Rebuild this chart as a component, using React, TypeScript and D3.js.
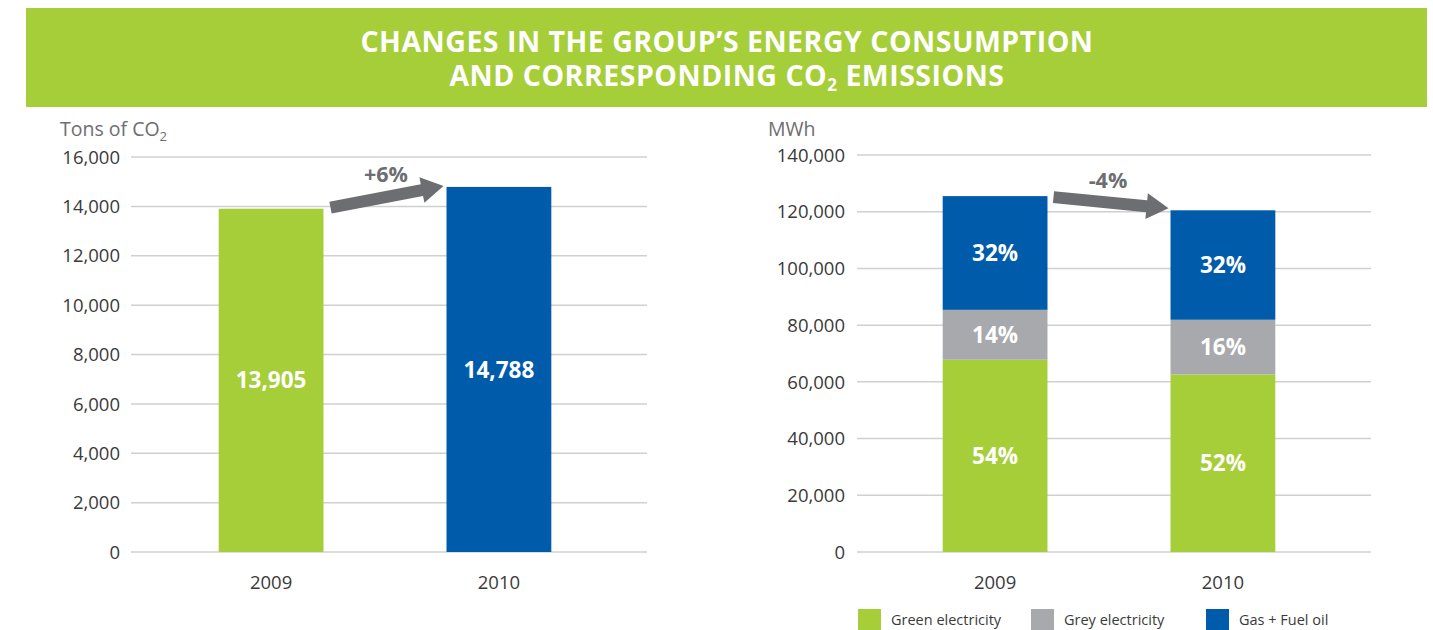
import React from "react";
import * as d3 from "d3";

// data
const years = ["2009", "2010"];
const co2Tons = [13905, 14788];
const co2Ticks = [0, 2000, 4000, 6000, 8000, 10000, 12000, 14000, 16000];
const co2Change = "+6%";

const energySeries = ["Green electricity", "Grey electricity", "Gas + Fuel oil"];
const greenMWh = [67800, 62600];
const greyMWh = [17600, 19300];
const gasMWh = [40100, 38600];
const energyShares = [
  ["54%", "52%"],
  ["14%", "16%"],
  ["32%", "32%"],
];
const energyTicks = [0, 20000, 40000, 60000, 80000, 100000, 120000, 140000];
const energyChange = "-4%";

const GREEN = "#a6ce39";
const GREY = "#a7a9ac";
const BLUE = "#005bab";
const ARROW = "#6d6e71";
const TEXT = "#3a3a3a";
const FONT = "'Open Sans', 'Noto Sans', sans-serif";

const fmt = d3.format(",");

// arrow polygon between two points (thick shaft + head)
function arrowPath(x1: number, y1: number, x2: number, y2: number) {
  const dx = x2 - x1;
  const dy = y2 - y1;
  const len = Math.hypot(dx, dy);
  const ux = dx / len;
  const uy = dy / len;
  const nx = -uy;
  const ny = ux;
  const shaft = 6;
  const head = 13;
  const headLen = 22;
  const bx = x2 - ux * headLen;
  const by = y2 - uy * headLen;
  const pts = [
    [x1 + nx * shaft, y1 + ny * shaft],
    [bx + nx * shaft, by + ny * shaft],
    [bx + nx * head, by + ny * head],
    [x2, y2],
    [bx - nx * head, by - ny * head],
    [bx - nx * shaft, by - ny * shaft],
    [x1 - nx * shaft, y1 - ny * shaft],
  ];
  return d3.line()(pts as [number, number][]) + "Z";
}

function Grid({ y, ticks, x0, x1, labelX }: any) {
  return (
    <g>
      {ticks.map((t: number) => (
        <g key={t}>
          <line x1={x0} x2={x1} y1={y(t)} y2={y(t)} stroke="#cfd0d2" strokeWidth={1.5} />
          <text x={labelX} y={y(t)} dy="0.36em" textAnchor="end" fontSize={18.5} fill={TEXT}>
            {fmt(t)}
          </text>
        </g>
      ))}
    </g>
  );
}

function Co2Chart() {
  const x0 = 131;
  const x1 = 647;
  const y = d3.scaleLinear().domain([0, 16000]).range([552, 157]);
  const x = d3.scaleBand().domain(years).range([x0 - 8, x1]).paddingInner(0.54).paddingOuter(0.42);
  const bw = x.bandwidth();
  const xa = (x(years[0]) ?? 0) + bw + 7;
  const xb = (x(years[1]) ?? 0) - 3;
  return (
    <g>
      <text x={60} y={136} fontSize={19.5} fill={ARROW}>
        Tons of CO<tspan fontSize={13} dy={5}>2</tspan>
      </text>
      <Grid y={y} ticks={co2Ticks} x0={x0} x1={x1} labelX={120} />
      {years.map((yr, i) => (
        <g key={yr}>
          <rect x={x(yr)} y={y(co2Tons[i])} width={bw} height={y(0) - y(co2Tons[i])} fill={i === 0 ? GREEN : BLUE} />
          <text x={(x(yr) ?? 0) + bw / 2} y={y(co2Tons[i]) + (y(0) - y(co2Tons[i])) / 2} dy="0.36em" textAnchor="middle" fontSize={22.5} fontWeight="bold" fill="#fff">
            {fmt(co2Tons[i])}
          </text>
          <text x={(x(yr) ?? 0) + bw / 2} y={589} textAnchor="middle" fontSize={18.5} fill={TEXT}>
            {yr}
          </text>
        </g>
      ))}
      <path d={arrowPath(xa, y(co2Tons[0]) - 1, xb, y(co2Tons[1]) - 1)} fill={ARROW} />
      <text x={(xa + xb) / 2 - 1} y={182} textAnchor="middle" fontSize={21.5} fontWeight="bold" fill={ARROW}>
        {co2Change}
      </text>
    </g>
  );
}

function EnergyChart() {
  const x0 = 857;
  const x1 = 1371;
  const y = d3.scaleLinear().domain([0, 140000]).range([552, 155]);
  const x = d3.scaleBand().domain(years).range([x0 - 10, x1]).paddingInner(0.54).paddingOuter(0.42);
  const bw = x.bandwidth();
  const rows = years.map((yr, i) => ({ year: yr, green: greenMWh[i], grey: greyMWh[i], gas: gasMWh[i] }));
  const keys = ["green", "grey", "gas"];
  const colors = [GREEN, GREY, BLUE];
  const stacked = d3.stack<any>().keys(keys)(rows);
  const totals = rows.map((r) => r.green + r.grey + r.gas);
  const xa = (x(years[0]) ?? 0) + bw + 6;
  const xb = (x(years[1]) ?? 0) - 2;
  const legendX = [858, 1031, 1206];
  return (
    <g>
      <text x={768} y={136} fontSize={19.5} fill={ARROW}>
        MWh
      </text>
      <Grid y={y} ticks={energyTicks} x0={x0} x1={x1} labelX={845} />
      {stacked.map((s, k) => (
        <g key={s.key}>
          {s.map((d, i) => (
            <g key={i}>
              <rect x={x(years[i])} y={y(d[1])} width={bw} height={y(d[0]) - y(d[1])} fill={colors[k]} />
              <text x={(x(years[i]) ?? 0) + bw / 2} y={(y(d[0]) + y(d[1])) / 2} dy="0.36em" textAnchor="middle" fontSize={22.5} fontWeight="bold" fill="#fff">
                {energyShares[k][i]}
              </text>
            </g>
          ))}
        </g>
      ))}
      {years.map((yr) => (
        <text key={yr} x={(x(yr) ?? 0) + bw / 2} y={589} textAnchor="middle" fontSize={18.5} fill={TEXT}>
          {yr}
        </text>
      ))}
      <path d={arrowPath(xa, y(totals[0]) + 1, xb, y(totals[1]) - 2)} fill={ARROW} />
      <text x={(xa + xb) / 2 - 3} y={188} textAnchor="middle" fontSize={21.5} fontWeight="bold" fill={ARROW}>
        {energyChange}
      </text>
      {energySeries.map((name, k) => (
        <g key={name}>
          <rect x={legendX[k]} y={609} width={23} height={21} fill={colors[k]} />
          <text x={legendX[k] + 33} y={625} fontSize={14.5} fill={TEXT}>
            {name}
          </text>
        </g>
      ))}
    </g>
  );
}

export default function App() {
  return (
    <div style={{ position: "absolute", left: 0, top: 0 }}>
      <svg width={1433} height={630} fontFamily={FONT} style={{ display: "block", background: "#fff" }}>
        <rect x={26} y={8} width={1401} height={99} fill={GREEN} />
        <text x={727} y={52} textAnchor="middle" fontSize={28.5} fontWeight="bold" fill="#fff" letterSpacing={0.5}>
          CHANGES IN THE GROUP’S ENERGY CONSUMPTION
        </text>
        <text x={727} y={86} textAnchor="middle" fontSize={28.5} fontWeight="bold" fill="#fff" letterSpacing={0.5}>
          AND CORRESPONDING CO<tspan fontSize={17} dy={5}>2</tspan>
          <tspan dy={-5}> EMISSIONS</tspan>
        </text>
        <Co2Chart />
        <EnergyChart />
      </svg>
    </div>
  );
}
